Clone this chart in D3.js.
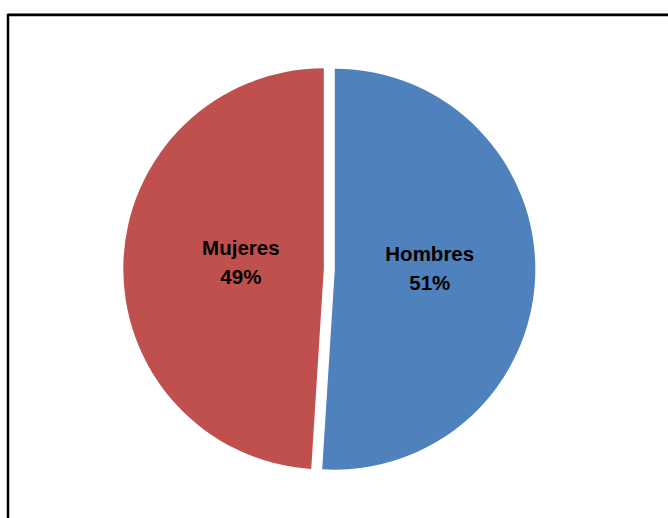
<!DOCTYPE html>
<html>
<head>
<meta charset="utf-8">
<script src="https://cdn.jsdelivr.net/npm/d3@7"></script>
<style>
  html, body { margin: 0; padding: 0; background: #fff; }
  svg { display: block; }
</style>
</head>
<body>
<svg id="chart" width="668" height="518"></svg>
<script>
const categories = ["Hombres", "Mujeres"];
const values = [51, 49];
const colors = ["#4F81BD", "#C0504D"];

const svg = d3.select("#chart");
const W = 668, H = 518;

// frame (cropped chart area border)
svg.append("line").attr("x1", 8).attr("x2", W).attr("y1", 13.5).attr("y2", 13.5)
  .attr("stroke", "#a0a0a0").attr("stroke-width", 1);
svg.append("path")
  .attr("d", `M8,${H} L8,15 L${W},15`)
  .attr("fill", "none").attr("stroke", "#000").attr("stroke-width", 2.5);

const cx = 329.3, cy = 269, r = 200.5, explode = 5.5;

const pie = d3.pie().sort(null).value(d => d.value);
const arcs = pie(categories.map((c, i) => ({ name: c, value: values[i], color: colors[i] })));
const arc = d3.arc().innerRadius(0).outerRadius(r);

const g = svg.append("g").attr("transform", `translate(${cx},${cy})`);

const slices = g.selectAll("g.slice").data(arcs).enter().append("g")
  .attr("class", "slice")
  .attr("transform", d => {
    const a = (d.startAngle + d.endAngle) / 2;
    return `translate(${explode * Math.sin(a)},${-explode * Math.cos(a)})`;
  });

slices.append("path")
  .attr("d", arc)
  .attr("fill", d => d.data.color);

const total = d3.sum(values);
const fmt = d3.format(".0%");

slices.each(function(d, i) {
  const a = (d.startAngle + d.endAngle) / 2;
  const lr = i === 0 ? 95 : 83;
  const lx = lr * Math.sin(a), ly = -lr * Math.cos(a);
  const t = d3.select(this).append("text")
    .attr("text-anchor", "middle")
    .attr("font-family", "'Liberation Sans', Arial, sans-serif")
    .attr("font-weight", "bold")
    .attr("font-size", 20.5)
    .attr("fill", "#000");
  t.append("tspan").attr("x", lx).attr("y", ly - 11).text(d.data.name);
  t.append("tspan").attr("x", lx).attr("y", ly + 18).text(fmt(d.data.value / total));
});
</script>
</body>
</html>
